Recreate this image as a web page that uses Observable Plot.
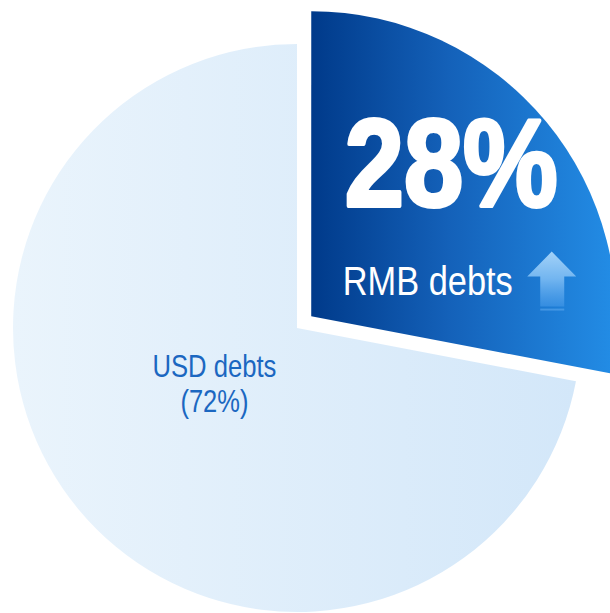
<!DOCTYPE html>
<html>
<head>
<meta charset="utf-8">
<script src="https://cdn.jsdelivr.net/npm/d3@7"></script>
<script src="https://cdn.jsdelivr.net/npm/@observablehq/plot@0.6"></script>
<style>
  html, body { margin: 0; padding: 0; background: #ffffff; }
  #chart svg { display: block; }
</style>
</head>
<body>
<div id="chart"></div>
<script>
// ---- data ----
const categories = ["RMB debts", "USD debts"];
const shares = [28, 72];
const shareLabels = ["28%", "(72%)"];

// ---- layout / style (not data) ----
const W = 610, H = 613;
const R0 = 284;                 // pixel radius of the base pie
const CX = 297, CY = 328;       // pixel centre of the base pie
const radiusFactor = [1.074, 1];  // RMB slice is enlarged
const explode = [0.065, 0];       // RMB slice pulled out along its mid-angle

const pie = d3.pie().sort(null).value(d => d.share);
const table = categories.map((c, i) => ({category: c, share: shares[i], label: shareLabels[i], i}));
const arcs = pie(table).map((a, i) => {
  const mid = (a.startAngle + a.endAngle) / 2;
  return {
    ...a,
    mid,
    ox: explode[i] * Math.sin(mid),
    oy: explode[i] * Math.cos(mid),
    r: radiusFactor[i]
  };
});
function labelPoint(a, k) {
  return {x: a.ox + k * a.r * Math.sin(a.mid), y: a.oy + k * a.r * Math.cos(a.mid)};
}
const rmb = arcs[0], usd = arcs[1];
const rmbAnchor = labelPoint(rmb, 0.6);
const usdAnchor = labelPoint(usd, 0.35);

// gradients
const defsMark = () => {
  const defs = d3.create("svg:defs");
  const g0 = defs.append("linearGradient").attr("id", "grad-rmb").attr("x1", 0).attr("x2", 1).attr("y1", 0).attr("y2", 0);
  [["0", "#003A8A"], ["0.45", "#1461B9"], ["1", "#238DE6"]].forEach(([o, c]) => g0.append("stop").attr("offset", o).attr("stop-color", c));
  const g1 = defs.append("linearGradient").attr("id", "grad-usd").attr("x1", 0).attr("x2", 1).attr("y1", 0).attr("y2", 0);
  [["0", "#EAF4FC"], ["1", "#D3E7F9"]].forEach(([o, c]) => g1.append("stop").attr("offset", o).attr("stop-color", c));
  const g2 = defs.append("linearGradient").attr("id", "grad-arrow").attr("x1", 0).attr("x2", 0).attr("y1", 0).attr("y2", 1);
  [["0", "#A3D2F8", 1], ["0.5", "#72B5F0", 1], ["1", "#3F95E6", 0.7]].forEach(([o, c, op]) => g2.append("stop").attr("offset", o).attr("stop-color", c).attr("stop-opacity", op));
  return defs.node();
};

// pie slices drawn through Plot's x/y scales
const slicesMark = (index, scales) => {
  const g = d3.create("svg:g").attr("aria-label", "pie");
  const unit = scales.x(1) - scales.x(0);
  const fills = ["url(#grad-rmb)", "url(#grad-usd)"];
  // draw USD first, then RMB on top
  [1, 0].forEach(i => {
    const a = arcs[i];
    g.append("path")
      .attr("transform", `translate(${scales.x(a.ox)},${scales.y(a.oy)})`)
      .attr("d", d3.arc()({innerRadius: 0, outerRadius: a.r * unit, startAngle: a.startAngle, endAngle: a.endAngle}))
      .attr("fill", fills[i]);
  });
  return g.node();
};

// up arrow next to "RMB debts"
const arrowMark = (index, scales) => {
  const x = scales.x(rmbAnchor.x) + 99.5, y = scales.y(rmbAnchor.y) + 52;
  const g = d3.create("svg:g").attr("aria-label", "arrow").attr("transform", `translate(${x},${y})`);
  g.append("path")
    .attr("d", "M0,0 L24.5,25 L12.5,25 L12.5,55 L-11.5,55 L-11.5,25 L-24.5,25 Z")
    .attr("fill", "url(#grad-arrow)");
  g.append("rect").attr("x", -11.5).attr("y", 57).attr("width", 24).attr("height", 2).attr("fill", "#5DA8EE").attr("opacity", 0.6);
  return g.node();
};

const svg = Plot.plot({
  width: W,
  height: H,
  margin: 0,
  x: {domain: [-CX / R0, (W - CX) / R0], axis: null},
  y: {domain: [-(H - CY) / R0, CY / R0], axis: null},
  style: {background: "#ffffff"},
  marks: [
    defsMark,
    slicesMark,
    Plot.text([rmb.data.label], {
      x: () => rmbAnchor.x, y: () => rmbAnchor.y, text: d => d,
      dx: -1.5, dy: -82.5, lineAnchor: "top",
      fontFamily: "'Liberation Sans', Arial, sans-serif",
      fontWeight: "bold", fontSize: 124, fill: "white", stroke: "white", strokeWidth: 4
    }),
    Plot.text([rmb.data.category], {
      x: () => rmbAnchor.x, y: () => rmbAnchor.y, text: d => d,
      dx: -25, dy: 67, lineAnchor: "top",
      fontFamily: "'Liberation Sans', Arial, sans-serif", fontSize: 40, fill: "white"
    }),
    arrowMark,
    Plot.text([usd.data.category], {
      x: () => usdAnchor.x, y: () => usdAnchor.y, text: d => d,
      dx: -6.5, dy: -36.5, lineAnchor: "top",
      fontFamily: "'Liberation Sans', Arial, sans-serif", fontSize: 30.5, fill: "#1B67C1"
    }),
    Plot.text([usd.data.label], {
      x: () => usdAnchor.x, y: () => usdAnchor.y, text: d => d,
      dx: -6.5, dy: -1.5, lineAnchor: "top",
      fontFamily: "'Liberation Sans', Arial, sans-serif", fontSize: 30.5, fill: "#1B67C1"
    })
  ]
});

// condense the labels to the reference widths
const widths = {"28%": 213, "RMB debts": 170, "USD debts": 124, "(72%)": 68};
d3.select(svg).selectAll("text").each(function() {
  const t = this.textContent;
  if (widths[t]) {
    d3.select(this).attr("textLength", widths[t]).attr("lengthAdjust", "spacingAndGlyphs");
  }
});

document.getElementById("chart").appendChild(svg);
</script>
</body>
</html>
